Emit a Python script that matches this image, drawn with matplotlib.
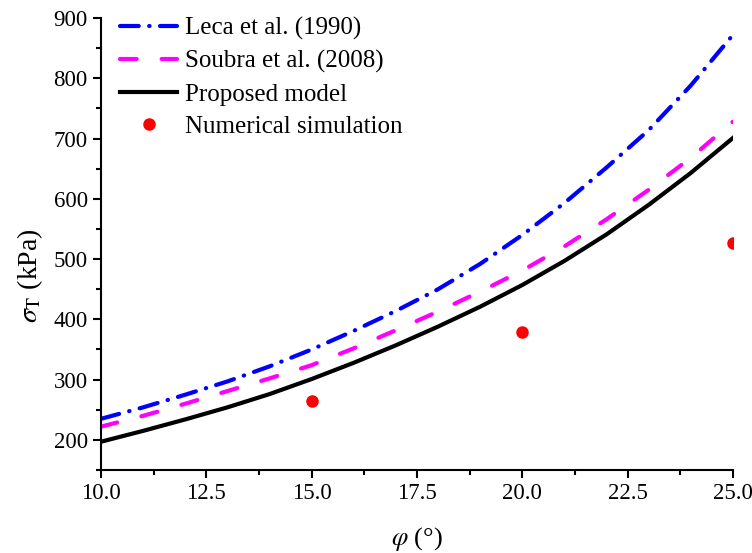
import matplotlib
matplotlib.use("Agg")
import matplotlib.pyplot as plt
from matplotlib.ticker import MultipleLocator

# data
phi = [10, 11, 12, 13, 14, 15, 16, 17, 18, 19, 20, 21, 22, 23, 24, 25]
leca = [235, 254, 275, 297, 322, 350, 381, 414, 450, 492, 540, 593, 652, 714, 788, 872]
soubra = [222, 240, 260, 281, 302, 324, 352, 382, 413, 446, 481, 521, 566, 615, 668, 728]
proposed = [197, 215, 234, 254, 276, 301, 328, 357, 388, 421, 457, 497, 541, 590, 643, 701]

num_phi = [15, 20, 25]
num_sigma = [264, 379, 527]

plt.rcParams['font.family'] = ['Liberation Serif', 'DejaVu Serif']
plt.rcParams['mathtext.fontset'] = 'stix'

fig = plt.figure(figsize=(7.52, 5.53), dpi=100)
ax = fig.add_axes([0.1343, 0.150, 0.8404, 0.8175])

ax.plot(phi, leca, color='#0000ff', lw=3, dashes=(4.5, 2.5, 0.1, 2.5),
        dash_capstyle='round', label='Leca et al. (1990)')
ax.plot(phi, soubra, color='#ff00ff', lw=3, dashes=(4, 6),
        dash_capstyle='round', label='Soubra et al. (2008)')
ax.plot(phi, proposed, color='black', lw=3, label='Proposed model')
ax.plot(num_phi, num_sigma, 'o', color='red', markersize=8, label='Numerical simulation')

ax.set_xlim(10, 25)
ax.set_ylim(150, 900)
ax.xaxis.set_major_locator(MultipleLocator(2.5))
ax.xaxis.set_minor_locator(MultipleLocator(1.25))
ax.yaxis.set_major_locator(MultipleLocator(100))
ax.yaxis.set_minor_locator(MultipleLocator(50))
ax.xaxis.set_major_formatter(matplotlib.ticker.FormatStrFormatter('%.1f'))

for side in ['top', 'right']:
    ax.spines[side].set_visible(False)
for side in ['left', 'bottom']:
    ax.spines[side].set_linewidth(1.5)

ax.tick_params(which='major', direction='out', length=6, width=1.5, labelsize=16.5)
ax.tick_params(which='minor', direction='out', length=3.5, width=1.5)

ax.set_xlabel(r'$\varphi$ (°)', fontsize=19, labelpad=15)
ax.set_ylabel(r'$\sigma_{\mathrm{T}}$ (kPa)', fontsize=20)
ax.yaxis.set_label_coords(-0.088, 0.43)

ax.legend(loc='upper left', frameon=False, fontsize=18, handlelength=2.3,
          handletextpad=0.3, labelspacing=0.4, borderaxespad=0.1,
          bbox_to_anchor=(0.01, 1.03))

plt.savefig('out.png', dpi=100)
